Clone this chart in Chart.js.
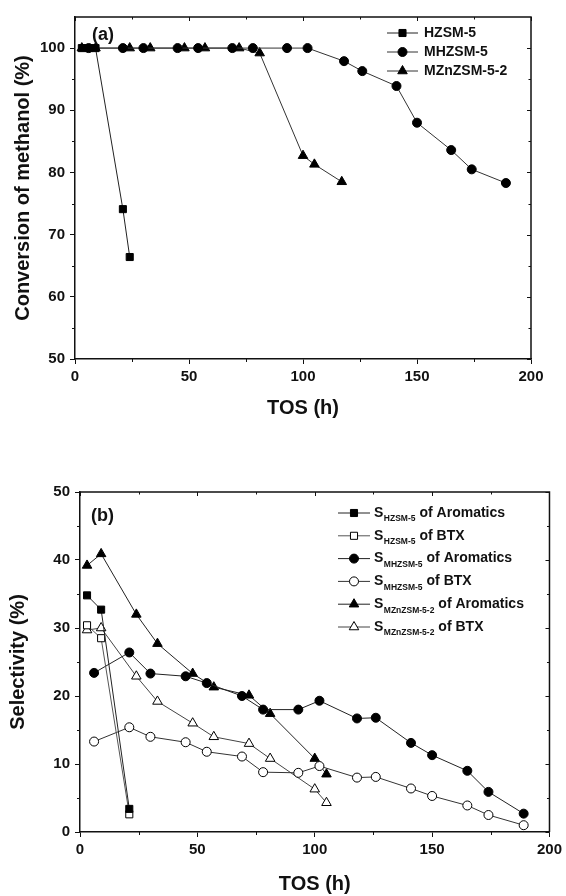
<!DOCTYPE html>
<html>
<head>
<meta charset="utf-8">
<script src="https://cdn.jsdelivr.net/npm/chart.js@4/dist/chart.umd.min.js"></script>
<style>
  html, body { margin: 0; padding: 0; background: #fff; }
  #wrap { position: relative; width: 566px; height: 896px; }
  canvas { position: absolute; left: 0; }
  #chartA { top: 0; }
  #chartB { top: 440px; }
</style>
</head>
<body>
<div id="wrap">
  <canvas id="chartA" width="566" height="440" style="width:566px;height:440px"></canvas>
  <canvas id="chartB" width="566" height="456" style="width:566px;height:456px"></canvas>
</div>
<script>
// ---- (a) conversion of methanol ----
const tosA_H = [3, 6, 9, 21, 24];
const convA_H = [100, 100, 100, 74.1, 66.4];
const tosA_M = [6, 21, 30, 45, 54, 69, 78, 93, 102, 118, 126, 141, 150, 165, 174, 189];
const convA_M = [100, 100, 100, 100, 100, 100, 100, 100, 100, 97.9, 96.3, 93.9, 88.0, 83.6, 80.5, 78.3];
const tosA_Z = [3, 9, 24, 33, 48, 57, 72, 81, 100, 105, 117];
const convA_Z = [100, 100, 100, 100, 100, 100, 100, 99.2, 82.7, 81.3, 78.5];
const namesA = ['HZSM-5', 'MHZSM-5', 'MZnZSM-5-2'];

// ---- (b) selectivity ----
const tosB_H = [3, 9, 21];
const aroB_H = [34.8, 32.7, 3.4];
const btxB_H = [30.4, 28.5, 2.6];
const tosB_M = [6, 21, 30, 45, 54, 69, 78, 93, 102, 118, 126, 141, 150, 165, 174, 189];
const aroB_M = [23.4, 26.4, 23.3, 22.9, 21.9, 20.0, 18.0, 18.0, 19.3, 16.7, 16.8, 13.1, 11.3, 9.0, 5.9, 2.7];
const btxB_M = [13.3, 15.4, 14.0, 13.2, 11.8, 11.1, 8.8, 8.7, 9.7, 8.0, 8.1, 6.4, 5.3, 3.9, 2.5, 1.0];
const tosB_Z = [3, 9, 24, 33, 48, 57, 72, 81, 100, 105];
const aroB_Z = [39.2, 40.9, 32.0, 27.7, 23.3, 21.3, 20.1, 17.4, 10.8, 8.5];
const btxB_Z = [29.7, 30.0, 22.9, 19.2, 16.0, 14.0, 13.0, 10.8, 6.3, 4.3];
const subsB = ['HZSM-5', 'HZSM-5', 'MHZSM-5', 'MHZSM-5', 'MZnZSM-5-2', 'MZnZSM-5-2'];
const restB = ['of Aromatics', 'of BTX', 'of Aromatics', 'of BTX', 'of Aromatics', 'of BTX'];

// ---- ticks ----
const xTicks = [0, 50, 100, 150, 200];
const xMinor = [25, 75, 125, 175];
const yTicksA = [50, 60, 70, 80, 90, 100];
const yMinorA = [55, 65, 75, 85, 95];
const yTicksB = [0, 10, 20, 30, 40, 50];
const yMinorB = [5, 15, 25, 35, 45];

const FONT = "'Liberation Sans', Arial, sans-serif";
const INK = '#111';

function toPoints(xs, ys) {
  return xs.map((x, i) => ({ x, y: ys[i] }));
}

function series(label, xs, ys, style, filled, radius, lineColor) {
  return {
    label,
    data: toPoints(xs, ys),
    borderColor: lineColor || '#222',
    borderWidth: 1,
    pointStyle: style,
    pointRadius: radius,
    pointBackgroundColor: filled ? '#000' : '#fff',
    pointBorderColor: '#000',
    pointBorderWidth: 1,
    tension: 0,
    fill: false,
    clip: false,
  };
}

function markerPath(ctx, style, x, y, r) {
  ctx.beginPath();
  if (style === 'circle') {
    ctx.arc(x, y, r, 0, Math.PI * 2);
  } else if (style === 'rect') {
    const s = r * Math.SQRT1_2;
    ctx.rect(x - s, y - s, 2 * s, 2 * s);
  } else {
    ctx.moveTo(x, y - r);
    ctx.lineTo(x + r * 0.866, y + r / 2);
    ctx.lineTo(x - r * 0.866, y + r / 2);
    ctx.closePath();
  }
}

// frame on top/right plus minor ticks and inner ticks
const frameTicks = {
  id: 'frameTicks',
  afterDraw(chart, args, opts) {
    const { ctx, chartArea: a, scales: { x, y } } = chart;
    ctx.save();
    ctx.strokeStyle = INK;
    ctx.lineWidth = 1.5;
    ctx.beginPath();
    ctx.moveTo(a.left, a.top);
    ctx.lineTo(a.right, a.top);
    ctx.lineTo(a.right, a.bottom);
    ctx.stroke();

    ctx.lineWidth = 1;
    ctx.beginPath();
    opts.xMajor.forEach((v) => {
      const px = Math.round(x.getPixelForValue(v)) + 0.5;
      ctx.moveTo(px, a.top); ctx.lineTo(px, a.top + 4);
    });
    opts.xMinor.forEach((v) => {
      const px = Math.round(x.getPixelForValue(v)) + 0.5;
      ctx.moveTo(px, a.bottom); ctx.lineTo(px, a.bottom + 3);
      ctx.moveTo(px, a.top); ctx.lineTo(px, a.top + 2.5);
    });
    opts.yMajor.forEach((v) => {
      const py = Math.round(y.getPixelForValue(v)) + 0.5;
      ctx.moveTo(a.right, py); ctx.lineTo(a.right - 4, py);
    });
    opts.yMinor.forEach((v) => {
      const py = Math.round(y.getPixelForValue(v)) + 0.5;
      ctx.moveTo(a.left, py); ctx.lineTo(a.left - 3, py);
      ctx.moveTo(a.right, py); ctx.lineTo(a.right - 2.5, py);
    });
    ctx.stroke();

    // panel tag
    ctx.fillStyle = INK;
    ctx.font = `bold 18px ${FONT}`;
    ctx.textBaseline = 'middle';
    ctx.textAlign = 'left';
    ctx.fillText(opts.tag, opts.tagX, opts.tagY);
    ctx.restore();
  },
};

// legend drawn inside the plot, with optional subscript
const innerLegend = {
  id: 'innerLegend',
  afterDraw(chart, args, opts) {
    const { ctx } = chart;
    ctx.save();
    chart.data.datasets.forEach((ds, i) => {
      const y = opts.y + i * opts.dy;
      ctx.strokeStyle = ds.borderColor;
      ctx.lineWidth = 1;
      ctx.beginPath();
      ctx.moveTo(opts.x0, y);
      ctx.lineTo(opts.x1, y);
      ctx.stroke();

      markerPath(ctx, ds.pointStyle, (opts.x0 + opts.x1) / 2, y, ds.pointRadius);
      ctx.fillStyle = ds.pointBackgroundColor;
      ctx.fill();
      ctx.strokeStyle = '#000';
      ctx.stroke();

      ctx.fillStyle = INK;
      ctx.textBaseline = 'middle';
      ctx.textAlign = 'left';
      ctx.font = `bold ${opts.size}px ${FONT}`;
      if (opts.subs) {
        let tx = opts.tx;
        ctx.fillText('S', tx, y);
        tx += ctx.measureText('S').width + 0.5;
        ctx.font = `bold ${opts.subSize}px ${FONT}`;
        ctx.fillText(opts.subs[i], tx, y + 6);
        tx += ctx.measureText(opts.subs[i]).width + 4;
        ctx.font = `bold ${opts.size}px ${FONT}`;
        ctx.fillText(opts.rest[i], tx, y);
      } else {
        ctx.fillText(ds.label, opts.tx, y);
      }
    });
    ctx.restore();
  },
};

function axisOptions(cfg) {
  return {
    x: {
      type: 'linear',
      min: 0,
      max: 200,
      afterBuildTicks: (s) => { s.ticks = xTicks.map((v) => ({ value: v })); },
      afterFit: (s) => { s.height = cfg.xHeight; },
      grid: { display: true, drawOnChartArea: false, drawTicks: true, tickLength: 5, color: INK, lineWidth: 1 },
      border: { display: true, color: INK, width: 1.5 },
      ticks: { color: INK, padding: 4, maxRotation: 0, font: { family: FONT, size: 15, weight: 'bold' } },
      title: {
        display: true,
        text: 'TOS (h)',
        color: INK,
        padding: { top: 0, bottom: cfg.xTitlePad },
        font: { family: FONT, size: 20, weight: 'bold', lineHeight: 1.2 },
      },
    },
    y: {
      type: 'linear',
      min: cfg.yMin,
      max: cfg.yMax,
      afterBuildTicks: (s) => { s.ticks = cfg.yTicks.map((v) => ({ value: v })); },
      afterFit: (s) => { s.width = cfg.yWidth; },
      grid: { display: true, drawOnChartArea: false, drawTicks: true, tickLength: 5, color: INK, lineWidth: 1 },
      border: { display: true, color: INK, width: 1.5 },
      ticks: { color: INK, padding: 5, font: { family: FONT, size: 15, weight: 'bold' } },
      title: {
        display: true,
        text: cfg.yTitle,
        color: INK,
        padding: { top: cfg.yTitlePad, bottom: 0 },
        font: { family: FONT, size: 20, weight: 'bold', lineHeight: 1.2 },
      },
    },
  };
}

Chart.defaults.font.family = FONT;

new Chart(document.getElementById('chartA'), {
  type: 'line',
  data: {
    datasets: [
      series(namesA[0], tosA_H, convA_H, 'rect', true, 5, '#222'),
      series(namesA[1], tosA_M, convA_M, 'circle', true, 4.5, '#333'),
      series(namesA[2], tosA_Z, convA_Z, 'triangle', true, 5.5, '#333'),
    ],
  },
  options: {
    responsive: false,
    animation: false,
    devicePixelRatio: 1,
    events: [],
    layout: { padding: { left: 0, right: 35, top: 17, bottom: 0 } },
    scales: axisOptions({
      xHeight: 81, xTitlePad: 20,
      yMin: 50, yMax: 105, yTicks: yTicksA, yWidth: 75, yTitlePad: 11,
      yTitle: 'Conversion of methanol (%)',
    }),
    plugins: {
      legend: { display: false },
      tooltip: { enabled: false },
      frameTicks: { xMajor: xTicks, xMinor, yMajor: yTicksA, yMinor: yMinorA, tag: '(a)', tagX: 92, tagY: 35 },
      innerLegend: { x0: 387, x1: 418, tx: 424, y: 33, dy: 19, size: 14 },
    },
  },
  plugins: [frameTicks, innerLegend],
});

new Chart(document.getElementById('chartB'), {
  type: 'line',
  data: {
    datasets: [
      series('S' + subsB[0] + ' ' + restB[0], tosB_H, aroB_H, 'rect', true, 5, '#222'),
      series('S' + subsB[1] + ' ' + restB[1], tosB_H, btxB_H, 'rect', false, 5, '#555'),
      series('S' + subsB[2] + ' ' + restB[2], tosB_M, aroB_M, 'circle', true, 4.5, '#222'),
      series('S' + subsB[3] + ' ' + restB[3], tosB_M, btxB_M, 'circle', false, 4.5, '#333'),
      series('S' + subsB[4] + ' ' + restB[4], tosB_Z, aroB_Z, 'triangle', true, 5.5, '#222'),
      series('S' + subsB[5] + ' ' + restB[5], tosB_Z, btxB_Z, 'triangle', false, 5.5, '#444'),
    ],
  },
  options: {
    responsive: false,
    animation: false,
    devicePixelRatio: 1,
    events: [],
    layout: { padding: { left: 0, right: 14, top: 52, bottom: 0 } },
    scales: axisOptions({
      xHeight: 64, xTitlePad: 0,
      yMin: 0, yMax: 50, yTicks: yTicksB, yWidth: 80, yTitlePad: 6,
      yTitle: 'Selectivity (%)',
    }),
    plugins: {
      legend: { display: false },
      tooltip: { enabled: false },
      frameTicks: { xMajor: xTicks, xMinor, yMajor: yTicksB, yMinor: yMinorB, tag: '(b)', tagX: 91, tagY: 76 },
      innerLegend: { x0: 338, x1: 370, tx: 374, y: 73, dy: 22.8, size: 14, subSize: 8.5, subs: subsB, rest: restB },
    },
  },
  plugins: [frameTicks, innerLegend],
});
</script>
</body>
</html>
